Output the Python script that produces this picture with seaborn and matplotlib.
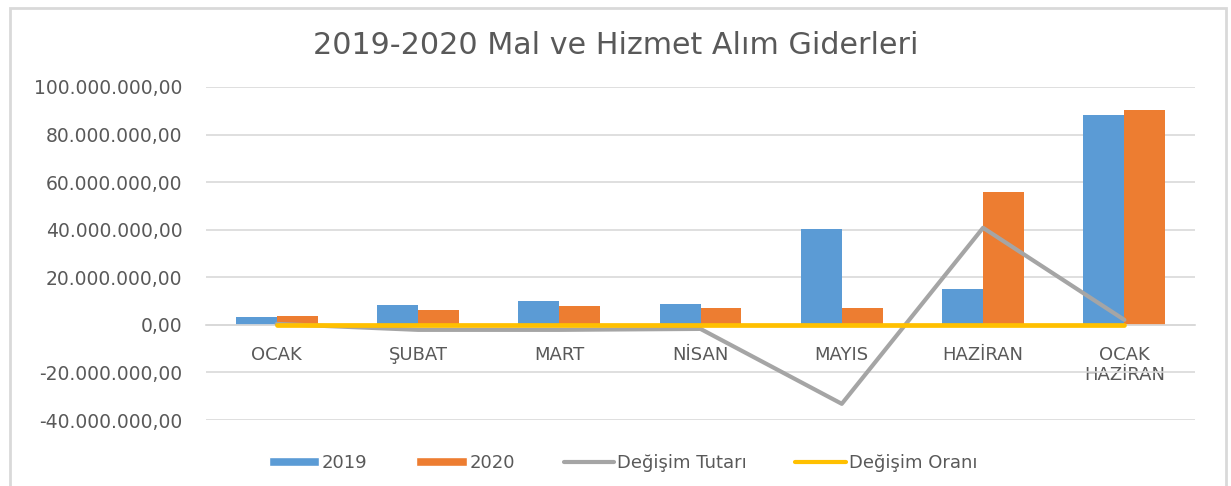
import pandas as pd
import seaborn as sns
import matplotlib.pyplot as plt
from matplotlib.patches import Patch, Rectangle
from matplotlib.lines import Line2D
from matplotlib.ticker import FuncFormatter

aylar = ["OCAK", "ŞUBAT", "MART", "NİSAN", "MAYIS", "HAZİRAN", "OCAK\nHAZİRAN"]
gider_2019 = [3.4e6, 8.4e6, 10.1e6, 8.8e6, 40.3e6, 15.1e6, 88.2e6]
gider_2020 = [3.8e6, 6.3e6, 8.0e6, 7.1e6, 7.1e6, 55.9e6, 90.3e6]
degisim_tutari = [0.4e6, -2.1e6, -2.1e6, -1.7e6, -33.2e6, 40.8e6, 2.1e6]
degisim_orani = [0.12, -0.25, -0.21, -0.19, -0.82, 2.70, 0.02]

mavi = "#5B9BD5"
turuncu = "#ED7D31"
gri = "#A5A5A5"
sari = "#FFC000"
yazi = "#595959"

sns.set_theme(style="white")
plt.rcParams["font.family"] = ["DejaVu Sans"]

df = pd.DataFrame({
    "ay": aylar * 2,
    "tutar": gider_2019 + gider_2020,
    "yil": ["2019"] * len(aylar) + ["2020"] * len(aylar),
})

fig = plt.figure(figsize=(12.31, 4.86), dpi=100)
ax = fig.add_axes([206 / 1231, 1 - 420 / 486, (1195 - 206) / 1231, (420 - 87) / 486])

sns.barplot(data=df, x="ay", y="tutar", hue="yil", order=aylar,
            palette=[mavi, turuncu], width=0.58, gap=0, saturation=1,
            linewidth=0, edgecolor="none", legend=False, ax=ax, zorder=2)
sns.pointplot(x=aylar, y=degisim_tutari, color=gri, marker="", linewidth=3,
              ax=ax, zorder=3)
sns.pointplot(x=aylar, y=degisim_orani, color=sari, marker="", linewidth=3.4,
              ax=ax, zorder=4)

ax.set_xlim(-0.5, len(aylar) - 0.5)
ax.set_ylim(-40e6, 100e6)
ax.set_yticks(range(-40_000_000, 100_000_001, 20_000_000))
ax.yaxis.set_major_formatter(FuncFormatter(
    lambda v, p: f"{v:,.2f}".replace(",", "X").replace(".", ",").replace("X", ".")))
ax.grid(axis="y", color="#D9D9D9", linewidth=1.2, zorder=0)
ax.set_axisbelow(True)
for s in ["top", "right", "left"]:
    ax.spines[s].set_visible(False)
ax.spines["bottom"].set_position(("data", 0))
ax.spines["bottom"].set_color("#D9D9D9")
ax.set_xlabel("")
ax.set_ylabel("")
ax.tick_params(axis="x", length=0, pad=15, labelsize=13, labelcolor=yazi)
ax.tick_params(axis="y", length=0, pad=17, labelsize=13.5, labelcolor=yazi)

fig.text(0.5, 1 - 45 / 486, "2019-2020 Mal ve Hizmet Alım Giderleri",
         ha="center", va="center", fontsize=21.7, color=yazi)

handles = [
    Patch(facecolor=mavi, label="2019"),
    Patch(facecolor=turuncu, label="2020"),
    Line2D([], [], color=gri, linewidth=3, label="Değişim Tutarı"),
    Line2D([], [], color=sari, linewidth=3, label="Değişim Oranı"),
]
fig.legend(handles=handles, loc="center", bbox_to_anchor=(0.506, 1 - 463 / 486),
           ncol=4, frameon=False, fontsize=13, labelcolor=yazi,
           handlelength=2.8, handleheight=0.45, handletextpad=0.15,
           columnspacing=2.7)

fig.patches.append(Rectangle((10 / 1231, -0.02), 1216 / 1231, 1.02 - 8 / 486,
                             transform=fig.transFigure, fill=False,
                             edgecolor="#D9D9D9", linewidth=2))

fig.savefig("out.png", dpi=100)
